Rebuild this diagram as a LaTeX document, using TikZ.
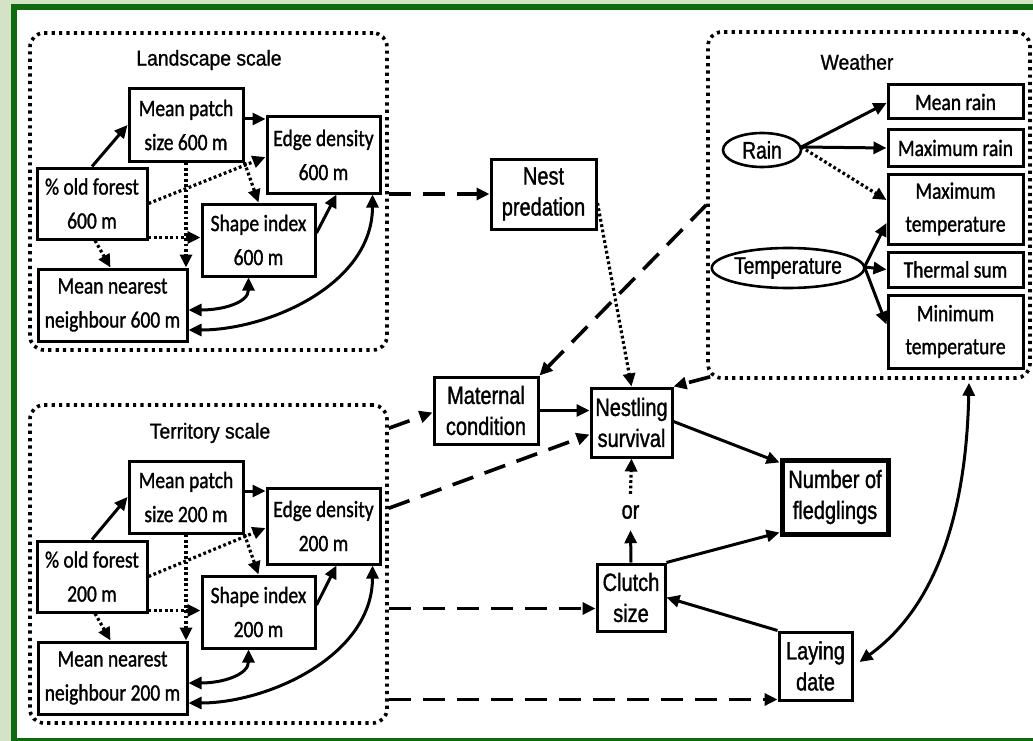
\documentclass[tikz,border=0pt]{standalone}
\usepackage{fontspec}
\setmainfont{Liberation Sans}
\newfontfamily\calfont[FakeStretch=0.83,FakeBold=1.2]{Carlito}
\newfontfamily\arfont[FakeStretch=0.8,FakeBold=1.2]{Liberation Sans}
\newfontfamily\tifont[FakeStretch=0.9,FakeBold=1]{Liberation Sans}
\usetikzlibrary{arrows.meta,calc,shapes.geometric}
\definecolor{bgg}{HTML}{D4E2C5}
\definecolor{frg}{HTML}{0F6A0F}
\tikzset{
  cbox/.style={draw, line width=3pt, inner sep=0pt, align=center, font=\calfont\fontsize{23.5}{34}\selectfont},
  abox/.style={draw, line width=3pt, inner sep=0pt, align=center, font=\arfont\fontsize{25}{31}\selectfont},
  grp/.style={draw, line width=3.6pt, dash pattern=on 3.2pt off 4.2pt, rounded corners=14pt, inner sep=0pt},
  ttl/.style={font=\tifont\fontsize{21.5}{26}\selectfont, inner sep=0pt},
  tip/.tip={Triangle[length=13pt,width=12pt]},
  arr/.style={line width=3pt, -tip},
  darr/.style={arr, line width=3.6pt, dash pattern=on 22pt off 12pt},
  dotarr/.style={arr, line width=3.2pt, dash pattern=on 2.8pt off 2.6pt},
  biarr/.style={line width=3pt, tip-tip},
  ell/.style={draw, ellipse, line width=2.6pt, inner sep=0pt, font=\arfont\fontsize{24}{28}\selectfont},
}
\begin{document}
\begin{tikzpicture}[x=1pt,y=-1pt]
\useasboundingbox (0,0) rectangle (1033,741);
\fill[bgg] (0,0) rectangle (1033,741);
\fill[frg] (11,4) rectangle (1033,741);
\fill[white] (17,10) rectangle (1033,738);

% ---------- Landscape scale ----------
\node[grp, minimum width=357pt, minimum height=317pt] (land) at (208.5,191.5) {};
\node[ttl] (landt) at (209,60) {Landscape scale};
\node[cbox, minimum width=114pt, minimum height=72pt] (lmp) at (186,125) {Mean patch\\size 600 m};
\node[cbox, minimum width=113pt, minimum height=76pt] (led) at (323.5,155) {Edge density\\600 m};
\node[cbox, minimum width=110pt, minimum height=71pt] (lof) at (92,203.5) {\% old forest\\600 m};
\node[cbox, minimum width=113pt, minimum height=72pt] (lsi) at (258.5,240) {Shape index\\600 m};
\node[cbox, minimum width=149pt, minimum height=72pt] (lmn) at (112.5,305) {Mean nearest\\neighbour 600 m};

\draw[arr] (lof.north) -- (lmp.west);
\coordinate (a1) at ($(lmp.east)+(0,-6)$);
\draw[arr] (a1) -- (a1 -| led.west);
\draw[dotarr] (lof.east) -- ($(led.west)+(0,2)$);
\draw[dotarr] (lmp.south east) -- (lsi.north);
\draw[dotarr] (lmp.south) -- (lmp.south |- lmn.north);
\coordinate (a2) at ($(lof.south east)+(0,-3)$);
\draw[dotarr] (a2) -- (a2 -| lsi.west);
\draw[dotarr] ($(lof.south)+(3,0)$) -- ($(lmn.north)+(-2,0)$);
\draw[arr] ($(lsi.east)+(0,-7)$) -- ($(led.south)+(13,0)$);
\draw[biarr] ($(lsi.south)+(-10,0)$) .. controls +(0,25) and +(35,0) .. ($(lmn.east)+(0,5)$);
\draw[biarr] ($(led.south)+(49,0)$) .. controls +(0,90) and +(80,0) .. ($(lmn.east)+(0,25)$);

% ---------- Territory scale ----------
\node[grp, minimum width=357pt, minimum height=318pt] (terr) at (208.5,564) {};
\node[ttl] (terrt) at (210,433) {Territory scale};
\node[cbox, minimum width=114pt, minimum height=72pt] (tmp) at (186,497) {Mean patch\\size 200 m};
\node[cbox, minimum width=113pt, minimum height=76pt] (ted) at (323.5,526) {Edge density\\200 m};
\node[cbox, minimum width=110pt, minimum height=71pt] (tof) at (92,576.5) {\% old forest\\200 m};
\node[cbox, minimum width=113pt, minimum height=72pt] (tsi) at (258.5,612) {Shape index\\200 m};
\node[cbox, minimum width=149pt, minimum height=72pt] (tmn) at (112.5,678) {Mean nearest\\neighbour 200 m};

\draw[arr] (tof.north) -- (tmp.west);
\coordinate (b1) at ($(tmp.east)+(0,-6)$);
\draw[arr] (b1) -- (b1 -| ted.west);
\draw[dotarr] (tof.east) -- ($(ted.west)+(0,2)$);
\draw[dotarr] (tmp.south east) -- (tsi.north);
\draw[dotarr] (tmp.south) -- (tmp.south |- tmn.north);
\coordinate (b2) at ($(tof.south east)+(0,-3)$);
\draw[dotarr] (b2) -- (b2 -| tsi.west);
\draw[dotarr] ($(tof.south)+(3,0)$) -- ($(tmn.north)+(-2,0)$);
\draw[arr] ($(tsi.east)+(0,-7)$) -- ($(ted.south)+(13,0)$);
\draw[biarr] ($(tsi.south)+(-10,0)$) .. controls +(0,25) and +(35,0) .. ($(tmn.east)+(0,5)$);
\draw[biarr] ($(ted.south)+(49,0)$) .. controls +(0,90) and +(80,0) .. ($(tmn.east)+(0,25)$);

% ---------- Weather ----------
\node[grp, minimum width=322pt, minimum height=346pt] (wea) at (869,205) {};
\node[ttl] (weat) at (857,62) {Weather};
\node[cbox, minimum width=135pt, minimum height=34pt] (wmr) at (955.5,102) {Mean rain};
\node[cbox, minimum width=135pt, minimum height=36pt] (wxr) at (955.5,148) {Maximum rain};
\node[cbox, minimum width=135pt, minimum height=70pt, font=\calfont\fontsize{23.5}{33}\selectfont] (wxt) at (955.5,209) {Maximum\\temperature};
\node[cbox, minimum width=135pt, minimum height=35pt] (wts) at (955.5,269.5) {Thermal sum};
\node[cbox, minimum width=135pt, minimum height=73pt, font=\calfont\fontsize{23.5}{33}\selectfont] (wnt) at (955.5,331.5) {Minimum\\temperature};
\node[ell, minimum width=78pt, minimum height=34pt] (rain) at (762,150) {Rain};
\node[ell, minimum width=150pt, minimum height=40pt] (temp) at (788,268) {Temperature};

\coordinate (rs) at ($(rain.east)+(-1,-3)$);
\draw[arr] (rs) -- ($(wmr.west)+(0,1)$);
\draw[arr] (rs) -- (wxr.west);
\draw[dotarr] (rs) -- ($(wxt.west)+(0,-9)$);
\coordinate (ts) at ($(temp.east)+(-1,-1)$);
\draw[arr] (ts) -- ($(wxt.west)+(0,14)$);
\draw[arr] (ts) -- (wts.west);
\draw[arr] (ts) -- ($(wnt.west)+(0,-7)$);

% ---------- Middle ----------
\node[abox, minimum width=105pt, minimum height=70pt] (pred) at (543.5,194) {Nest\\predation};
\node[abox, minimum width=104pt, minimum height=67pt] (mat) at (486,410.5) {Maternal\\condition};
\node[abox, minimum width=81pt, minimum height=69pt] (nest) at (631.5,422.5) {Nestling\\survival};
\node[abox, minimum width=68pt, minimum height=67pt] (clutch) at (631,597.5) {Clutch\\size};
\node[abox, minimum width=106pt, minimum height=74pt, line width=5pt] (fled) at (835,497) {Number of\\fledglings};
\node[abox, minimum width=73pt, minimum height=68pt] (lay) at (815.5,666) {Laying\\date};
\node[font=\arfont\fontsize{25}{28}\selectfont, minimum height=36pt, inner sep=0pt] (or) at (630.5,512) {or};

\draw[darr] (land.east |- pred.west) -- (pred.west);
\draw[darr] (wea.west) -- (mat.north east);
\coordinate (wsw) at ($(wea.south west)+(4,-3)$);
\draw[darr] (wsw) -- (nest.north east);
\draw[dotarr] ($(pred.east)+(0,9)$) -- (nest.north);
\draw[darr] ($(terr.north east)+(0,25)$) -- ($(mat.west)+(0,2)$);
\draw[arr] (mat.east) -- (mat.east -| nest.west);
\draw[darr] ($(terr.north east)+(0,105)$) -- ($(nest.west)+(0,12)$);
\coordinate (cl1) at ($(clutch.west)+(0,11)$);
\draw[darr] (terr.east |- cl1) -- (cl1);
\coordinate (ly1) at ($(lay.south west)+(0,-2)$);
\draw[darr] (terr.east |- ly1) -- (ly1);
\draw[arr] ($(nest.east)+(0,-1)$) -- ($(fled.north west)+(0,5)$);
\draw[arr] (clutch.north east) -- ($(fled.south west)+(0,-4)$);
\draw[arr] (lay.north west) -- (clutch.east);
\draw[arr] (clutch.north) -- (or.south);
\draw[dotarr] (or.north) -- (nest.south);
\coordinate (wb) at ($(wea.south)+(100,3)$);
\coordinate (le) at ($(lay.east)+(6,-4)$);
\draw[biarr] (wb) .. controls +(-3,140) and +(72,-52) .. (le);
\end{tikzpicture}
\end{document}
